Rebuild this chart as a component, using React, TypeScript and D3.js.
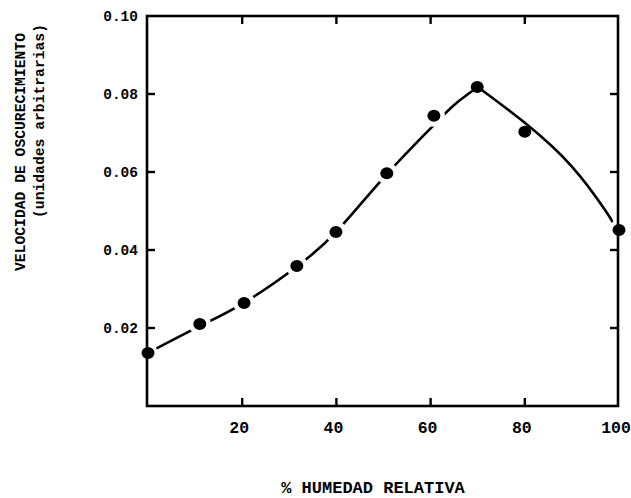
import React from "react";
import * as d3 from "d3";

// Measured points: % relative humidity vs darkening rate
const pointX = [0, 11, 20.4, 31.6, 39.9, 50.7, 60.7, 69.9, 80, 100];
const pointY = [0.0136, 0.021, 0.0264, 0.0359, 0.0446, 0.0597, 0.0744, 0.0818, 0.0703, 0.0451];
// Hand-drawn fitted curve (rising branch, falling branch meet at the peak)
const riseX = [2, 11, 20, 31, 40, 50, 60, 65, 70];
const riseY = [0.0149, 0.0205, 0.0262, 0.0352, 0.0447, 0.0585, 0.0712, 0.0772, 0.0818];
const fallX = [70, 80, 90, 97, 98.5];
const fallY = [0.0818, 0.0726, 0.0614, 0.0503, 0.0474];
// indices of points whose surroundings break the line
const haloIdx = [1, 2, 3, 4, 5, 6];

const xTicks = [20, 40, 60, 80, 100];
const yTicks = [0.02, 0.04, 0.06, 0.08, 0.1];
const innerX = [20, 40, 60, 80];
const innerY = [0.02, 0.04, 0.06, 0.08];

const yTitle1 = "VELOCIDAD DE OSCURECIMIENTO";
const yTitle2 = "(unidades arbitrarias)";
const xTitle = "% HUMEDAD RELATIVA";

export default function App() {
  const W = 631, H = 498;
  const L = 147, R = 618, T = 16, B = 406;
  const x = d3.scaleLinear().domain([0, 100]).range([148, 619]);
  const y = d3.scaleLinear().domain([0, 0.1]).range([B, T]);
  const font = "'Liberation Mono', 'DejaVu Sans Mono', monospace";
  const mk = (xs: number[]) =>
    d3
      .line<number>()
      .x((_, i) => x(xs[i]))
      .y((d) => y(d))
      .curve(d3.curveNatural);
  const tl = 8;
  return (
    <svg width={W} height={H} style={{ position: "absolute", left: 0, top: 0, background: "#fff" }}>
      <rect x={0} y={0} width={W} height={H} fill="#fff" />
      <path d={mk(riseX)(riseY) || ""} fill="none" stroke="#000" strokeWidth={2.6} strokeLinecap="round" />
      <path d={mk(fallX)(fallY) || ""} fill="none" stroke="#000" strokeWidth={2.6} strokeLinecap="round" />
      {haloIdx.map((i) => (
        <circle key={"h" + i} cx={x(pointX[i])} cy={y(pointY[i])} r={11} fill="#fff" />
      ))}
      {pointX.map((px, i) => (
        <ellipse key={"p" + i} cx={x(px)} cy={y(pointY[i])} rx={6.5} ry={6} fill="#000" />
      ))}
      <rect x={L} y={T} width={R - L} height={B - T} fill="none" stroke="#000" strokeWidth={2.6} />
      {innerY.map((v) => (
        <g key={"yt" + v}>
          <line x1={L} x2={L + tl} y1={y(v)} y2={y(v)} stroke="#000" strokeWidth={2.4} />
          <line x1={R} x2={R - tl} y1={y(v)} y2={y(v)} stroke="#000" strokeWidth={2.4} />
        </g>
      ))}
      {innerX.map((v) => (
        <g key={"xt" + v}>
          <line x1={x(v)} x2={x(v)} y1={B} y2={B - tl} stroke="#000" strokeWidth={2.4} />
          <line x1={x(v)} x2={x(v)} y1={T} y2={T + tl} stroke="#000" strokeWidth={2.4} />
        </g>
      ))}
      {yTicks.map((v) => (
        <text
          key={"yl" + v}
          x={138}
          y={y(v) + 5}
          textAnchor="end"
          fontFamily={font}
          fontWeight="bold"
          fontSize={14.5}
          fill="#000"
        >
          {v.toFixed(2)}
        </text>
      ))}
      {xTicks.map((v) => (
        <text
          key={"xl" + v}
          x={x(v) - 3}
          y={433}
          textAnchor="middle"
          fontFamily={font}
          fontWeight="bold"
          fontSize={16.5}
          fill="#000"
        >
          {v}
        </text>
      ))}
      <text
        transform="translate(25,152) rotate(-90)"
        textAnchor="middle"
        fontFamily={font}
        fontWeight="bold"
        fontSize={14.7}
        fill="#000"
      >
        {yTitle1}
      </text>
      <text
        transform="translate(44,121) rotate(-90)"
        textAnchor="middle"
        fontFamily={font}
        fontWeight="bold"
        fontSize={14.7}
        fill="#000"
      >
        {yTitle2}
      </text>
      <text
        x={373}
        y={493}
        textAnchor="middle"
        fontFamily={font}
        fontWeight="bold"
        fontSize={17}
        fill="#000"
      >
        {xTitle}
      </text>
    </svg>
  );
}
